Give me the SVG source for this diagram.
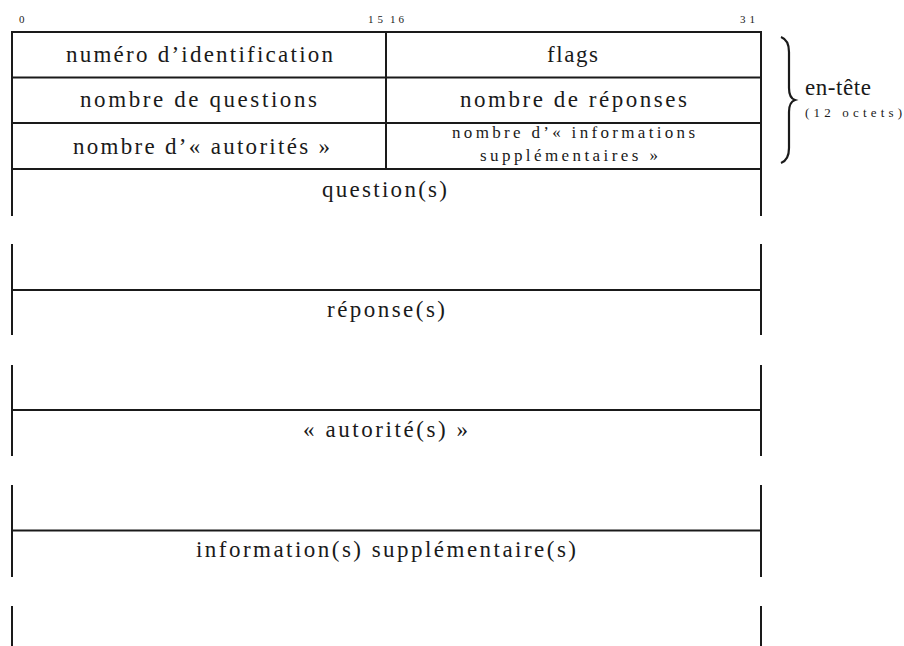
<svg xmlns="http://www.w3.org/2000/svg" width="904" height="646" viewBox="0 0 904 646">
<style>
.ln{stroke:#1a1a1a;stroke-width:2;fill:none;stroke-linecap:butt}
text{fill:#1a1a1a}
.t{font-size:23px;text-anchor:middle}
.s{font-size:17px;text-anchor:middle}
.e{font-size:23px}
.o{font-size:13px}
.b{font-size:11px}
</style>
<rect width="904" height="646" fill="#fff"/>
<g font-family="Liberation Serif, serif">
<g id="bits">
<text class="b" x="19" y="23">0</text>
<text class="b" x="368" y="23" textLength="15">15</text>
<text class="b" x="390" y="23" textLength="14">16</text>
<text class="b" x="740" y="23" textLength="15">31</text>
</g>
<g id="connectors">
<path class="ln" d="M11,32 H762 M11,77.5 H762 M11,123 H762 M11,169 H762 M386,32 V169"/>
<path class="ln" d="M12,31 V216 M761,31 V216"/>
<path class="ln" d="M12,244 V335 M761,244 V335 M11,290 H762"/>
<path class="ln" d="M12,365 V456 M761,365 V456 M11,410 H762"/>
<path class="ln" d="M12,485 V577 M761,485 V577 M11,530.5 H762"/>
<path class="ln" d="M12,606 V646 M761,606 V646"/>
</g>
<g id="id"><text class="t" x="199.5" y="62" textLength="267">numéro d’identification</text></g>
<g id="flags"><text class="t" x="572.5" y="62" textLength="51">flags</text></g>
<g id="nq"><text class="t" x="198.5" y="107" textLength="237">nombre de questions</text></g>
<g id="nr"><text class="t" x="573.5" y="107" textLength="227">nombre de réponses</text></g>
<g id="na"><text class="t" x="201.5" y="154" textLength="257">nombre d’« autorités »</text></g>
<g id="ni">
<text class="s" x="573.5" y="138" textLength="243">nombre d’« informations</text>
<text class="s" x="569" y="161" textLength="178">supplémentaires »</text>
</g>
<g id="question"><text class="t" x="384.5" y="197" textLength="125">question(s)</text></g>
<g id="reponse"><text class="t" x="386" y="317" textLength="118">réponse(s)</text></g>
<g id="autorite"><text class="t" x="385.5" y="437" textLength="165">« autorité(s) »</text></g>
<g id="info"><text class="t" x="386" y="557" textLength="380">information(s) supplémentaire(s)</text></g>
<g id="entete">
<path d="M781,37 Q789,40 789,52 L789,88 Q789,98 795,100 Q789,102 789,112 L789,148 Q789,160 781,163" fill="none" stroke="#1a1a1a" stroke-width="2.2"/>
<text class="e" x="805" y="95" textLength="66">en-tête</text>
<text class="o" x="805" y="117" textLength="97">(12 octets)</text>
</g>
</g>
</svg>
